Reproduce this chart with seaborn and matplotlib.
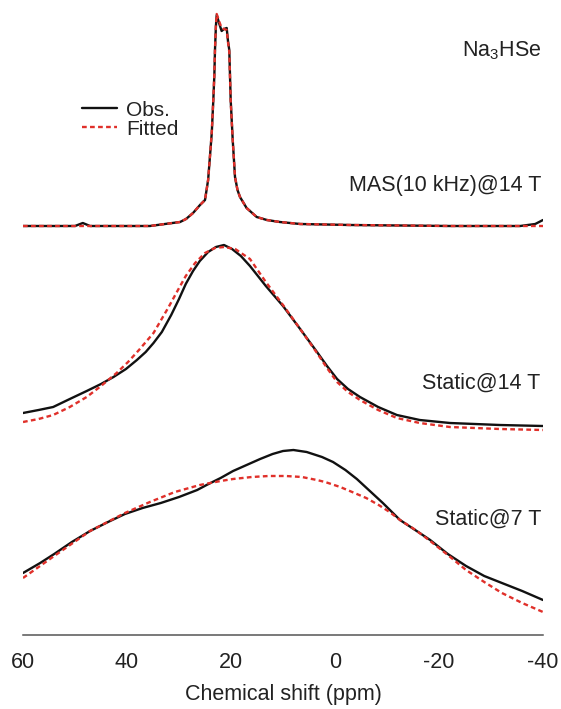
import numpy as np
import pandas as pd
import matplotlib
matplotlib.use("Agg")
import matplotlib.pyplot as plt
from matplotlib.lines import Line2D
import seaborn as sns

# ---- 23Na NMR spectra of Na3HSe: observed and fitted line shapes ----
# MAS (10 kHz) @ 14 T
mas_obs_ppm = [60.0, 50.0, 48.5, 47.1, 35.6, 29.8, 28.65, 27.3, 25.96, 25.0, 24.4, 24.04,
               23.7, 23.4, 23.2, 23.08, 22.9, 22.75, 22.3, 21.8, 21.35, 20.83, 20.58,
               20.33, 20.06, 19.67, 19.23, 18.75, 18.27, 17.0, 15.06, 13.1, 10.6,
               6.7, -2.9, -22.1, -35.6, -38.5, -40.0]
mas_obs_int = [0, 0, 3, 0, 0, 4, 7, 13, 21, 26, 46, 70,
               93, 126, 151, 176, 200, 211, 203, 195, 197, 198, 185,
               176, 126, 86, 49, 36, 29, 18, 9, 6, 4,
               2, 1, 0, 0, 2, 6]
mas_fit_ppm = [60.0, 35.6, 29.8, 28.65, 27.3, 25.96, 25.0, 24.4, 24.04, 23.7, 23.4,
               23.2, 23.08, 22.9, 22.75, 22.3, 21.8, 21.35, 20.83, 20.58, 20.33,
               20.06, 19.67, 19.23, 18.75, 18.27, 17.0, 15.06, 13.1, 10.6, 6.7,
               -2.9, -22.1, -40.0]
mas_fit_int = [0, 0, 4, 7, 13, 21, 26, 46, 70, 94, 127,
               152, 177, 201, 212, 205, 198, 197, 196, 184, 174,
               125, 86, 49, 36, 29, 18, 9, 6, 4, 2,
               1, 0, 0]

# Static @ 14 T
st14_obs_ppm = [60.0, 57.0, 54.2, 51.0, 47.75, 45.0, 42.6, 40.2, 38.1, 36.4, 34.9, 33.3,
                31.5, 30.0, 28.7, 27.3, 26.0, 24.4, 22.9, 21.35, 19.8, 18.1, 16.35,
                13.3, 10.0, 6.7, 3.46, 1.54, -0.4, -2.5, -4.8, -8.3, -11.9, -16.3,
                -22.1, -31.7, -40.0]
st14_obs_int = [27, 30, 33, 41, 49, 56, 63, 71, 80, 88, 97, 108,
                125, 141, 156, 169, 179, 188, 193, 195, 191, 184, 174,
                154, 134, 111, 88, 74, 61, 51, 43, 33, 25, 20,
                17, 15, 14]
st14_fit_ppm = [60.0, 57.0, 54.2, 51.0, 47.75, 45.0, 42.0, 39.8, 37.7, 34.9, 32.1,
                30.2, 28.7, 26.9, 25.0, 23.1, 21.35, 19.2, 16.35, 13.3, 10.0, 6.7,
                3.46, 1.54, -0.4, -2.5, -4.8, -8.3, -11.9, -16.3, -22.1, -31.7, -40.0]
st14_fit_int = [18, 21, 25, 33, 43, 54, 67, 78, 90, 107, 132,
                150, 164, 177, 187, 192, 193, 191, 181, 158, 135, 111,
                87, 72, 58, 48, 40, 30, 22, 17, 13, 11, 10]

# Static @ 7 T
st7_obs_ppm = [60.0, 56.7, 54.0, 50.6, 47.1, 43.65, 40.4, 37.0, 33.5, 30.0, 26.5, 24.7,
               22.0, 19.6, 17.0, 14.4, 12.0, 10.0, 8.0, 5.45, 2.5, 0.38, -2.0, -4.2,
               -6.7, -9.2, -12.5, -16.0, -18.3, -21.7, -25.2, -28.7, -32.1, -36.0, -40.0]
st7_obs_int = [47, 57, 66, 78, 89, 98, 106, 112, 117, 123, 130, 135,
               142, 149, 155, 161, 166, 169, 170, 168, 163, 158, 150, 141,
               129, 117, 100, 88, 80, 66, 54, 44, 37, 29, 20]
st7_fit_ppm = [60.0, 54.0, 47.1, 40.4, 35.6, 30.8, 26.0, 22.0, 19.6, 16.0, 12.75,
               9.5, 6.35, 3.5, 1.9, -1.0, -3.3, -6.0, -8.4, -10.5, -12.5, -15.5,
               -18.3, -21.7, -25.2, -28.7, -32.1, -36.0, -40.0]
st7_fit_int = [42, 64, 89, 107, 118, 128, 135, 139, 141, 143, 144,
               144, 143, 140, 138, 133, 128, 122, 115, 108, 100, 90,
               79, 65, 50, 38, 27, 17, 8]

# vertical stacking of the three spectra (bottom to top)
labels = ["Static@7 T", "Static@14 T", "MAS(10 kHz)@14 T"]
offsets = [15, 195, 409]

x_ticks = [60, 40, 20, 0, -20, -40]
x_tick_labels = ["60", "40", "20", "0", "-20", "-40"]

sns.set_style("white")
plt.rcParams["font.family"] = ["Liberation Sans", "DejaVu Sans"]
plt.rcParams["mathtext.default"] = "regular"

fig = plt.figure(figsize=(5.61, 7.09), dpi=100)
ax = fig.add_axes([23 / 561, 74 / 709, 520 / 561, 630 / 709])

obs_color = "#111111"
fit_color = "#e0302a"
fit_style = (0, (2.0, 1.4))

spectra = [
    (st7_obs_ppm, st7_obs_int, st7_fit_ppm, st7_fit_int),
    (st14_obs_ppm, st14_obs_int, st14_fit_ppm, st14_fit_int),
    (mas_obs_ppm, mas_obs_int, mas_fit_ppm, mas_fit_int),
]

for (op, oi, fp, fi), off in zip(spectra, offsets):
    obs = pd.DataFrame({"ppm": op, "y": np.array(oi) + off})
    fit = pd.DataFrame({"ppm": fp, "y": np.array(fi) + off})
    sns.lineplot(data=obs, x="ppm", y="y", ax=ax, color=obs_color, lw=1.7,
                 sort=False, estimator=None)
    sns.lineplot(data=fit, x="ppm", y="y", ax=ax, color=fit_color, lw=1.7,
                 sort=False, estimator=None, linestyle=fit_style)

ax.set_xlim(60, -40)
ax.set_ylim(0, 630)
ax.set_yticks([])
ax.set_ylabel("")
ax.set_xticks(x_ticks)
ax.set_xticklabels(x_tick_labels)
ax.set_xlabel("Chemical shift (ppm)", fontsize=15.5, color="#222222", labelpad=8)
for side in ["left", "right", "top"]:
    ax.spines[side].set_visible(False)
ax.spines["bottom"].set_color("#555555")
ax.spines["bottom"].set_linewidth(1.1)
ax.tick_params(axis="x", direction="in", length=6, width=1.1, color="#555555",
               labelsize=15.5, labelcolor="#222222", pad=12)

# legend
handles = [Line2D([], [], color=obs_color, lw=1.7),
           Line2D([], [], color=fit_color, lw=1.7, linestyle=fit_style)]
fig.legend(handles, ["Obs.", "Fitted"], loc="upper left",
           bbox_to_anchor=(67 / 561, 1 - 86 / 709), frameon=False, fontsize=15,
           handlelength=1.7, handletextpad=0.45, labelspacing=0.0,
           borderpad=0.2, labelcolor="#222222")

# annotations
txt_kw = dict(ha="right", va="center", fontsize=15.5, color="#222222")
fig.text(541 / 561, 1 - 51 / 709, "Na$_3$HSe", **txt_kw)
fig.text(541 / 561, 1 - 185 / 709, labels[2], **txt_kw)
fig.text(540 / 561, 1 - 383 / 709, labels[1], **txt_kw)
fig.text(541 / 561, 1 - 519 / 709, labels[0], **txt_kw)

fig.savefig("out.png", dpi=100)
